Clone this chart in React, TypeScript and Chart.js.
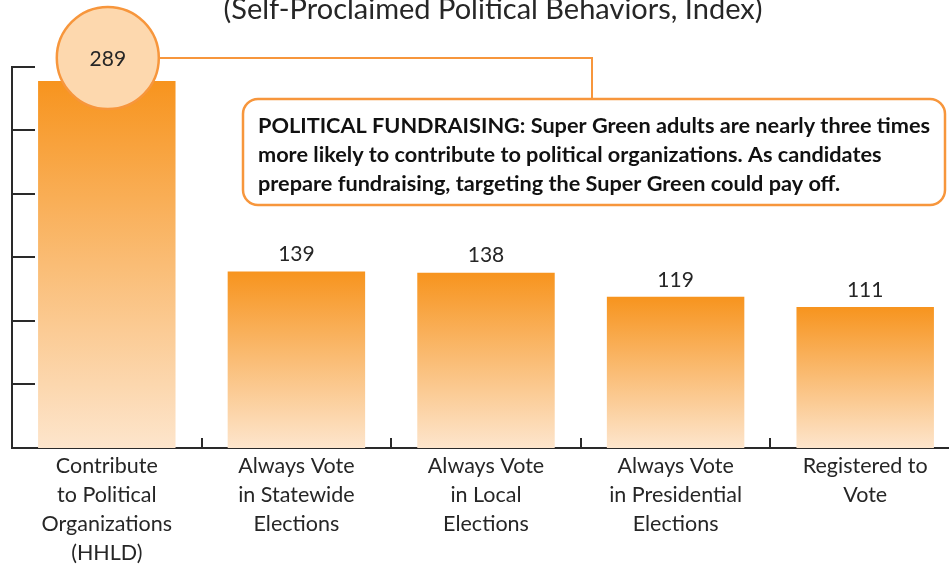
import React, { useEffect, useRef } from "react";
import { Chart, registerables } from "chart.js";
Chart.register(...registerables);

const categories: string[][] = [
  ["Contribute", "to Political", "Organizations", "(HHLD)"],
  ["Always Vote", "in Statewide", "Elections"],
  ["Always Vote", "in Local", "Elections"],
  ["Always Vote", "in Presidential", "Elections"],
  ["Registered to", "Vote"],
];
const values: number[] = [289, 139, 138, 119, 111];
const yTicks: number[] = [0, 50, 100, 150, 200, 250, 300];
const titleText = "(Self-Proclaimed Political Behaviors, Index)";
const calloutLines: string[] = [
  "POLITICAL FUNDRAISING: Super Green adults are nearly three times",
  "more likely to contribute to political organizations. As candidates",
  "prepare fundraising, targeting the Super Green could pay off.",
];

const ORANGE = "#F7963C";
const TEXT = "#262626";
const AXIS = "#2a2a2a";
const FONT = "Lato, 'Open Sans', sans-serif";

const overlay = {
  id: "overlay",
  afterDraw(chart: any) {
    const ctx = chart.ctx as CanvasRenderingContext2D;
    const x = chart.scales.x;
    const y = chart.scales.y;
    const area = chart.chartArea;
    ctx.save();
    // title
    ctx.fillStyle = TEXT;
    ctx.font = `29px ${FONT}`;
    ctx.textAlign = "center";
    ctx.textBaseline = "alphabetic";
    ctx.fillText(titleText, 493, 19);

    // y ticks (inward)
    ctx.strokeStyle = AXIS;
    ctx.lineWidth = 2;
    ctx.beginPath();
    for (const v of yTicks) {
      const py = Math.round(y.getPixelForValue(v));
      ctx.moveTo(area.left, py);
      ctx.lineTo(area.left + 23, py);
    }
    // x ticks at category boundaries (inward)
    for (let i = 1; i < values.length; i++) {
      const px = Math.round((x.getPixelForValue(i - 1) + x.getPixelForValue(i)) / 2);
      ctx.moveTo(px, area.bottom);
      ctx.lineTo(px, area.bottom - 10);
    }
    ctx.stroke();

    // value labels
    ctx.font = `21px ${FONT}`;
    ctx.textAlign = "center";
    ctx.textBaseline = "middle";
    ctx.fillStyle = TEXT;
    for (let i = 1; i < values.length; i++) {
      ctx.fillText(String(values[i]), x.getPixelForValue(i), y.getPixelForValue(values[i]) - 17);
    }

    // highlight circle on first bar
    const cx = x.getPixelForValue(0) + 1;
    const cy = y.getPixelForValue(values[0]) - 23;
    const r = 51;
    // connector
    const bx = 243, by = 99, bw = 702, bh = 106;
    ctx.strokeStyle = ORANGE;
    ctx.lineWidth = 2;
    ctx.beginPath();
    ctx.moveTo(cx + r, cy);
    ctx.lineTo(592, cy);
    ctx.lineTo(592, by);
    ctx.stroke();

    ctx.beginPath();
    ctx.arc(cx, cy, r, 0, Math.PI * 2);
    ctx.fillStyle = "#FDD8AE";
    ctx.fill();
    ctx.lineWidth = 2.5;
    ctx.strokeStyle = ORANGE;
    ctx.stroke();
    ctx.fillStyle = TEXT;
    ctx.font = `21px ${FONT}`;
    ctx.fillText(String(values[0]), cx, cy + 1);

    // callout box
    ctx.beginPath();
    (ctx as any).roundRect(bx, by, bw, bh, 15);
    ctx.fillStyle = "#ffffff";
    ctx.fill();
    ctx.lineWidth = 2.5;
    ctx.strokeStyle = ORANGE;
    ctx.stroke();
    ctx.fillStyle = "#111111";
    ctx.font = `bold 21.7px ${FONT}`;
    ctx.textAlign = "left";
    ctx.textBaseline = "middle";
    calloutLines.forEach((line, i) => {
      ctx.fillText(line, bx + 15, by + 27 + i * 29);
    });
    ctx.restore();
  },
};

export default function App() {
  const ref = useRef<HTMLCanvasElement | null>(null);
  useEffect(() => {
    document.body.style.margin = "0";
    document.body.style.overflow = "hidden";
    const canvas = ref.current!;
    const chart = new Chart(canvas, {
      type: "bar",
      data: {
        labels: categories,
        datasets: [
          {
            data: values,
            borderWidth: 0,
            categoryPercentage: 1,
            barPercentage: 0.725,
            backgroundColor: (c: any) => {
              const ch = c.chart;
              if (!ch.chartArea || c.dataIndex === undefined) return "#F7941E";
              const top = ch.scales.y.getPixelForValue(values[c.dataIndex]);
              const bottom = ch.scales.y.getPixelForValue(0);
              const g = ch.ctx.createLinearGradient(0, top, 0, bottom);
              g.addColorStop(0, "#F7941E");
              g.addColorStop(1, "#FDE5CC");
              return g;
            },
          },
        ],
      },
      options: {
        responsive: false,
        animation: false,
        layout: { padding: { left: 12, right: 20, top: 67, bottom: -2 } },
        plugins: { legend: { display: false }, tooltip: { enabled: false }, title: { display: false } },
        scales: {
          x: {
            grid: { display: false, drawTicks: false },
            border: { display: true, color: AXIS, width: 2 },
            ticks: {
              color: TEXT,
              font: { family: FONT, size: 21.5, lineHeight: 1.35 },
              padding: 4,
              maxRotation: 0,
              autoSkip: false,
            },
          },
          y: {
            min: 0,
            max: 300,
            grid: { display: false, drawTicks: false },
            border: { display: true, color: AXIS, width: 2 },
            ticks: { display: false, stepSize: 50 },
          },
        },
      },
      plugins: [overlay],
    });
    return () => chart.destroy();
  }, []);
  return (
    <div style={{ position: "fixed", left: 0, top: 0, width: 949, height: 565, overflow: "hidden", background: "#fff" }}>
      <canvas ref={ref} width={980} height={570} style={{ display: "block" }} />
    </div>
  );
}
